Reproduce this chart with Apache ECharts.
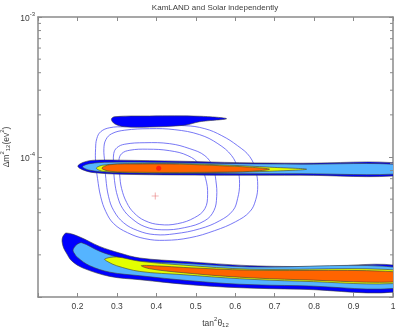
<!DOCTYPE html>
<html>
<head>
<meta charset="utf-8">
<script src="https://cdn.jsdelivr.net/npm/echarts@6/dist/echarts.min.js"></script>
<style>
  html, body { margin: 0; padding: 0; background: #fff; }
  #chart { width: 399px; height: 327px; }
</style>
</head>
<body>
<div id="chart"></div>
<script>
// KamLAND allowed regions, [tan^2 theta12, dm^2_12 (eV^2)]
const upBlue = [[0.201,8.60e-5],[0.216,9.18e-5],[0.244,9.49e-5],[0.307,9.49e-5],[0.459,9.33e-5],[0.611,9.11e-5],[0.764,9.03e-5],[1.03,8.96e-5],[1.03,7.44e-5],[0.764,7.41e-5],[0.611,7.41e-5],[0.459,7.44e-5],[0.307,7.54e-5],[0.244,7.72e-5],[0.216,8.05e-5]];
const upLight = [[0.213,8.53e-5],[0.231,8.96e-5],[0.282,9.18e-5],[0.459,9.11e-5],[0.611,8.96e-5],[0.764,8.89e-5],[1.03,8.77e-5],[1.03,7.64e-5],[0.764,7.60e-5],[0.611,7.60e-5],[0.459,7.64e-5],[0.282,7.79e-5],[0.231,8.05e-5]];
const upYellow = [[0.248,8.32e-5],[0.264,8.74e-5],[0.332,8.96e-5],[0.459,8.96e-5],[0.586,8.74e-5],[0.687,8.46e-5],[0.781,8.18e-5],[0.687,7.91e-5],[0.586,7.78e-5],[0.459,7.70e-5],[0.332,7.72e-5],[0.264,7.91e-5]];
const upOrange = [[0.262,8.32e-5],[0.282,8.81e-5],[0.358,8.91e-5],[0.459,8.89e-5],[0.561,8.67e-5],[0.637,8.46e-5],[0.687,8.18e-5],[0.637,7.89e-5],[0.561,7.80e-5],[0.459,7.76e-5],[0.358,7.78e-5],[0.282,7.91e-5]];
const island = [[0.286,1.862e-4],[0.294,1.94e-4],[0.383,1.963e-4],[0.510,1.955e-4],[0.578,1.877e-4],[0.510,1.787e-4],[0.472,1.687e-4],[0.383,1.637e-4],[0.320,1.644e-4],[0.294,1.729e-4]];
const lowBlue = [[0.161,2.495e-5],[0.163,2.70e-5],[0.172,2.864e-5],[0.206,2.683e-5],[0.256,2.298e-5],[0.307,2.061e-5],[0.358,1.899e-5],[0.468,1.796e-5],[0.637,1.674e-5],[0.806,1.646e-5],[1.03,1.633e-5],[1.03,1.115e-5],[0.764,1.137e-5],[0.611,1.165e-5],[0.485,1.224e-5],[0.358,1.329e-5],[0.282,1.403e-5],[0.214,1.611e-5],[0.185,1.816e-5],[0.172,2.061e-5],[0.165,2.239e-5]];
const lowLight = [[0.189,2.177e-5],[0.198,2.364e-5],[0.211,2.44e-5],[0.256,2.124e-5],[0.307,1.909e-5],[0.358,1.80e-5],[0.468,1.74e-5],[0.637,1.64e-5],[1.03,1.606e-5],[1.03,1.179e-5],[0.764,1.204e-5],[0.611,1.234e-5],[0.485,1.307e-5],[0.358,1.419e-5],[0.282,1.504e-5],[0.231,1.674e-5],[0.201,1.909e-5],[0.191,2.072e-5]];
const lowYellow = [[0.269,1.868e-5],[0.299,1.931e-5],[0.358,1.80e-5],[0.468,1.69e-5],[0.637,1.58e-5],[1.03,1.542e-5],[1.03,1.265e-5],[0.764,1.297e-5],[0.611,1.351e-5],[0.468,1.443e-5],[0.358,1.523e-5],[0.299,1.674e-5],[0.277,1.787e-5]];
const lowOrange = [[0.362,1.674e-5],[0.409,1.665e-5],[0.468,1.627e-5],[0.637,1.554e-5],[1.03,1.499e-5],[1.03,1.292e-5],[0.764,1.329e-5],[0.611,1.385e-5],[0.468,1.491e-5],[0.383,1.592e-5]];

// solar contours
const solar1 = [[0.246,1.146e-4],[0.249,1.351e-4],[0.259,1.516e-4],[0.282,1.619e-4],[0.320,1.646e-4],[0.383,1.660e-4],[0.472,1.674e-4],[0.523,1.593e-4],[0.566,1.420e-4],[0.606,1.204e-4],[0.637,1.005e-4],[0.652,7.98e-5],[0.657,6.24e-5],[0.652,4.95e-5],[0.637,4.07e-5],[0.601,3.45e-5],[0.548,2.98e-5],[0.485,2.65e-5],[0.421,2.54e-5],[0.371,2.61e-5],[0.327,2.88e-5],[0.292,3.34e-5],[0.272,4.07e-5],[0.259,5.20e-5],[0.251,7.00e-5],[0.246,9.26e-5]];
const solar2 = [[0.267,1.146e-4],[0.272,1.329e-4],[0.287,1.467e-4],[0.320,1.554e-4],[0.383,1.593e-4],[0.447,1.567e-4],[0.510,1.443e-4],[0.556,1.245e-4],[0.591,1.022e-4],[0.606,8.25e-5],[0.611,6.45e-5],[0.606,5.04e-5],[0.594,4.14e-5],[0.561,3.51e-5],[0.510,3.07e-5],[0.447,2.83e-5],[0.396,2.79e-5],[0.353,2.98e-5],[0.317,3.39e-5],[0.292,4.14e-5],[0.279,5.20e-5],[0.272,7.00e-5],[0.269,9.26e-5]];
const solar3 = [[0.292,1.056e-4],[0.300,1.165e-4],[0.320,1.234e-4],[0.371,1.265e-4],[0.434,1.245e-4],[0.485,1.146e-4],[0.523,1.022e-4],[0.543,8.53e-5],[0.551,6.77e-5],[0.553,5.20e-5],[0.546,4.14e-5],[0.523,3.51e-5],[0.472,3.13e-5],[0.414,3.02e-5],[0.371,3.18e-5],[0.338,3.63e-5],[0.315,4.27e-5],[0.302,5.20e-5],[0.294,6.77e-5],[0.292,8.53e-5]];
const solar4 = [[0.305,9.41e-5],[0.312,1.056e-4],[0.333,1.118e-4],[0.378,1.137e-4],[0.434,1.109e-4],[0.480,1.022e-4],[0.510,8.81e-5],[0.525,7.00e-5],[0.530,5.38e-5],[0.523,4.27e-5],[0.497,3.69e-5],[0.454,3.34e-5],[0.409,3.29e-5],[0.371,3.51e-5],[0.343,4.00e-5],[0.325,4.72e-5],[0.312,5.94e-5],[0.307,7.47e-5]];

const kamBest = [[0.406, 8.3e-5]];
const solarBest = [[0.397, 5.26e-5]];

const minorTicksY = [2e-5,3e-5,4e-5,5e-5,6e-5,7e-5,8e-5,9e-5,2e-4,3e-4,4e-4,5e-4,6e-4,7e-4,8e-4,9e-4];

const X_MIN = 0.1, X_MAX = 1, Y_MIN = 1e-5, Y_MAX = 1e-3;
const AXIS_GREY = '#8a8a8a';
const TEXT = '#3c3c3c';
const FONT = 'Liberation Sans';

const rich = {
  b: { fontSize: 8.5, color: TEXT, fontFamily: FONT, verticalAlign: 'bottom' },
  sup: { fontSize: 6, color: TEXT, fontFamily: FONT, padding: [0, 0, 6, 0], verticalAlign: 'bottom' },
  sub: { fontSize: 6, color: TEXT, fontFamily: FONT, padding: [5, 0, 0, 0], verticalAlign: 'bottom' }
};

function region(points, fill, z) {
  return {
    type: 'custom', data: points, clip: true, z: z, silent: true,
    renderItem(params, api) {
      if (params.dataIndex !== 0) return null;
      return {
        type: 'polygon',
        shape: { points: points.map(p => api.coord(p)), smooth: 0.35 },
        style: { fill: fill, stroke: '#3a3a3a', lineWidth: 0.6 }
      };
    }
  };
}

function contour(points) {
  return {
    type: 'custom', data: points, clip: true, z: 1, silent: true,
    renderItem(params, api) {
      if (params.dataIndex !== 0) return null;
      return {
        type: 'polygon',
        shape: { points: points.map(p => api.coord(p)), smooth: 0.4 },
        style: { fill: null, stroke: '#5555f2', lineWidth: 0.8 }
      };
    }
  };
}

const axisCommon = {
  axisLine: { show: true, onZero: false, lineStyle: { color: AXIS_GREY, width: 1.5 } },
  axisTick: { show: true, inside: true, length: 4, lineStyle: { color: AXIS_GREY } },
  splitLine: { show: false }
};

const chart = echarts.init(document.getElementById('chart'));
chart.setOption({
  animation: false,
  backgroundColor: '#fff',
  title: {
    text: 'KamLAND and Solar independently',
    left: 215, top: 4, padding: 0, textAlign: 'center',
    textStyle: { fontSize: 8, fontWeight: 'normal', color: TEXT, fontFamily: FONT }
  },
  grid: { left: 38, right: 6, top: 17, bottom: 30, outerBoundsMode: 'none', containLabel: false },
  xAxis: [
    Object.assign({
      type: 'value', min: X_MIN, max: X_MAX, interval: 0.1, position: 'bottom',
      name: '{b|tan}{sup|2}{b|θ}{sub|12}', nameLocation: 'middle', nameGap: 18,
      nameTextStyle: { fontSize: 8.5, color: TEXT, fontFamily: FONT, rich: rich },
      axisLabel: {
        fontSize: 8.5, color: TEXT, fontFamily: FONT, margin: 5,
        formatter: v => Math.abs(v - X_MIN) < 1e-9 ? '' : (Math.abs(v - 1) < 1e-9 ? '1' : v.toFixed(1))
      }
    }, axisCommon),
    Object.assign({
      type: 'value', min: X_MIN, max: X_MAX, interval: 0.1, position: 'top',
      axisLabel: { show: false }
    }, axisCommon)
  ],
  yAxis: [
    Object.assign({
      type: 'log', logBase: 10, min: Y_MIN, max: Y_MAX, position: 'left',
      name: '{b|Δm}{sup|2}{sub|12}{b|(ev}{sup|2}{b|)}', nameLocation: 'middle', nameGap: 27, nameRotate: 90,
      nameMoveOverlap: false,
      nameTextStyle: { fontSize: 8.5, color: TEXT, fontFamily: FONT, rich: rich, padding: [0, 0, 0, 20] },
      axisLabel: {
        margin: 3, rich: rich,
        formatter: v => {
          const e = Math.round(Math.log10(v));
          return e === -5 ? '' : '{b|10}{sup|' + e + '}';
        }
      }
    }, axisCommon),
    Object.assign({
      type: 'log', logBase: 10, min: Y_MIN, max: Y_MAX, position: 'right',
      axisLabel: { show: false }
    }, axisCommon)
  ],
  series: [
    contour(solar1), contour(solar2), contour(solar3), contour(solar4),
    region(island, '#0000ff', 2),
    region(upBlue, '#0000ff', 2),
    region(upLight, '#55b4ff', 3),
    region(upYellow, '#e4ff00', 4),
    region(upOrange, '#ff6400', 5),
    region(lowBlue, '#0000ff', 2),
    region(lowLight, '#55b4ff', 3),
    region(lowYellow, '#e4ff00', 4),
    region(lowOrange, '#ff6400', 5),
    {
      type: 'custom', z: 8, silent: true,
      data: minorTicksY.map(v => [X_MIN, v]),
      renderItem(params, api) {
        const v = api.value(1);
        const l = api.coord([X_MIN, v]);
        const r = api.coord([X_MAX, v]);
        return {
          type: 'group',
          children: [
            { type: 'line', shape: { x1: l[0], y1: l[1], x2: l[0] + 3, y2: l[1] }, style: { stroke: AXIS_GREY, lineWidth: 1 } },
            { type: 'line', shape: { x1: r[0] - 3, y1: r[1], x2: r[0], y2: r[1] }, style: { stroke: AXIS_GREY, lineWidth: 1 } }
          ]
        };
      }
    },
    {
      type: 'scatter', data: kamBest, z: 10, silent: true,
      symbol: 'circle', symbolSize: 5,
      itemStyle: { color: '#ff1010' }
    },
    {
      type: 'scatter', data: solarBest, z: 10, silent: true,
      symbol: 'path://M4.6,0h0.8v10h-0.8zM0,4.6h10v0.8h-10z', symbolSize: 7,
      itemStyle: { color: '#e04848' }
    }
  ]
});
</script>
</body>
</html>
